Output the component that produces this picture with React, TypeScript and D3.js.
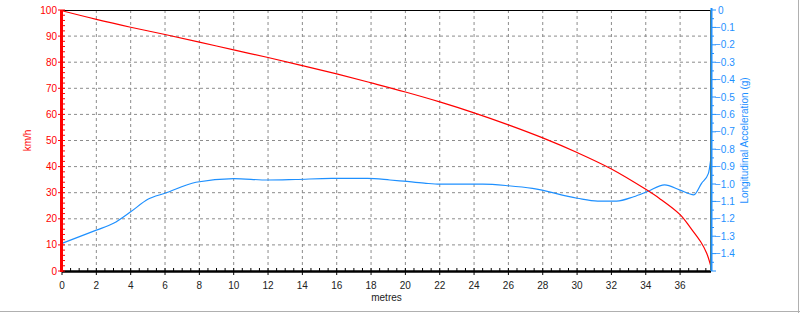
import React from "react";
import * as d3 from "d3";

const speedDist = [0, 2, 4, 6, 8, 10, 12, 14, 16, 18, 20, 22, 24, 26, 28, 30, 32, 34, 34.8, 36, 36.6, 37.2, 37.55, 37.8];
const speedKmh = [99.7, 96.4, 93.4, 90.6, 87.7, 84.7, 81.8, 78.7, 75.5, 72.1, 68.6, 64.8, 60.6, 56.0, 51.0, 45.4, 39.1, 31.3, 27.8, 21.6, 16.6, 11.2, 6.8, 1.6];

const accDist = [0, 2, 3, 4, 5, 6, 7.8, 10, 12, 13.6, 15.7, 17.8, 19.1, 19.9, 21.1, 22, 24.5, 26, 27.4, 30, 31.2, 32.3, 33.3, 34.1, 35.1, 36, 36.8, 37.25, 37.65, 37.78];
const accG = [-1.341, -1.265, -1.226, -1.16, -1.088, -1.053, -0.99, -0.969, -0.977, -0.974, -0.968, -0.968, -0.977, -0.984, -0.995, -1.001, -1.001, -1.01, -1.025, -1.082, -1.098, -1.098, -1.073, -1.043, -1.005, -1.035, -1.062, -0.996, -0.939, -0.863];

const xTicks = d3.range(0, 37, 2);
const leftTicks = d3.range(0, 101, 10);
const rightTicks = d3.range(0, 15).map((i) => -i / 10);

const W = 800, H = 313;
const L = 62, R = 711, T = 10, B = 271;
const RED = "#ff0000";
const BLUE = "#1e90ff";
const FONT = "'Liberation Sans', Arial, sans-serif";

export default function App() {
  const x = d3.scaleLinear().domain([0, 37.8]).range([L, R]);
  const yL = d3.scaleLinear().domain([0, 100]).range([B, T]);
  const yR = d3.scaleLinear().domain([-1.5, 0]).range([B, T]);

  const redLine = d3.line<number>().x((_, i) => x(speedDist[i])).y((d) => yL(d)).curve(d3.curveCatmullRom.alpha(0.5));
  const blueLine = d3.line<number>().x((_, i) => x(accDist[i])).y((d) => yR(d)).curve(d3.curveMonotoneX);

  const xMinor = d3.range(0, 37.81, 0.5);
  const lMinor = d3.range(0, 101, 2);
  const rMinor = d3.range(0, 31).map((i) => -i * 0.05);

  return (
    <svg width={W} height={H} style={{ position: "absolute", left: 0, top: 0, background: "#fff" }}>
      <line x1={0} x2={W} y1={H - 1.5} y2={H - 1.5} stroke="#b0b0b0" strokeWidth={1} />
      <line x1={W - 1.5} x2={W - 1.5} y1={0} y2={H} stroke="#b0b0b0" strokeWidth={1} />

      {xTicks.filter((t) => t > 0).map((t) => (
        <line key={"gx" + t} x1={x(t)} x2={x(t)} y1={T} y2={B} stroke="#8c8c8c" strokeDasharray="3,3" strokeWidth={1} />
      ))}
      {leftTicks.filter((t) => t > 0 && t < 100).map((t) => (
        <line key={"gy" + t} x1={L} x2={R} y1={yL(t)} y2={yL(t)} stroke="#8c8c8c" strokeDasharray="3,3" strokeWidth={1} />
      ))}

      <line x1={L} x2={R} y1={T + 0.5} y2={T + 0.5} stroke="#000" strokeWidth={1} />

      <path d={blueLine(accG) || ""} fill="none" stroke={BLUE} strokeWidth={1.2} />
      <path d={redLine(speedKmh) || ""} fill="none" stroke={RED} strokeWidth={1.2} />

      <line x1={L} x2={R} y1={B + 0.5} y2={B + 0.5} stroke="#000" strokeWidth={2.5} />
      {xMinor.map((t) => (
        <line key={"xm" + t} x1={x(t)} x2={x(t)} y1={B} y2={B - 3} stroke="#000" strokeWidth={1} />
      ))}
      {xTicks.map((t) => (
        <g key={"xt" + t}>
          <line x1={x(t)} x2={x(t)} y1={B} y2={B + 4} stroke="#000" strokeWidth={1} />
          <text x={x(t)} y={289} textAnchor="middle" fontFamily={FONT} fontSize={10} fill="#222">{t}</text>
        </g>
      ))}
      <text x={(L + R) / 2} y={301} textAnchor="middle" fontFamily={FONT} fontSize={10} fill="#222">metres</text>

      <line x1={L - 0.5} x2={L - 0.5} y1={T} y2={B + 1} stroke={RED} strokeWidth={3} />
      {lMinor.map((t) => (
        <line key={"lm" + t} x1={L} x2={L + 3} y1={yL(t)} y2={yL(t)} stroke={RED} strokeWidth={1} />
      ))}
      {leftTicks.map((t) => (
        <g key={"lt" + t}>
          <line x1={L - 4} x2={L} y1={yL(t)} y2={yL(t)} stroke={RED} strokeWidth={1} />
          <text x={57} y={yL(t)} dy="0.35em" textAnchor="end" fontFamily={FONT} fontSize={10} fill={RED}>{t}</text>
        </g>
      ))}
      <text transform={`translate(31,${(T + B) / 2}) rotate(-90)`} textAnchor="middle" fontFamily={FONT} fontSize={10} fill={RED}>km/h</text>

      <line x1={R - 0.5} x2={R - 0.5} y1={T} y2={B} stroke="#6b6b2a" strokeWidth={1} />
      <line x1={R + 0.5} x2={R + 0.5} y1={T - 2} y2={B} stroke={BLUE} strokeWidth={2} />
      {rMinor.map((t, i) => (
        <line key={"rm" + i} x1={R} x2={R + (i % 2 === 0 ? 5 : 3)} y1={yR(t)} y2={yR(t)} stroke={BLUE} strokeWidth={1} />
      ))}
      {rightTicks.map((t, i) => (
        <text key={"rt" + i} x={t === 0 ? 718 : 715} y={yR(t)} dy="0.35em" textAnchor="start" fontFamily={FONT} fontSize={10} fill={BLUE}>
          {t === 0 ? "0" : d3.format(".1f")(t).replace(/^-1\.0$/, "-1")}
        </text>
      ))}
      <text transform={`translate(748,${(T + B) / 2}) rotate(-90)`} textAnchor="middle" fontFamily={FONT} fontSize={10} fill={BLUE}>Longitudinal Acceleration (g)</text>
    </svg>
  );
}
